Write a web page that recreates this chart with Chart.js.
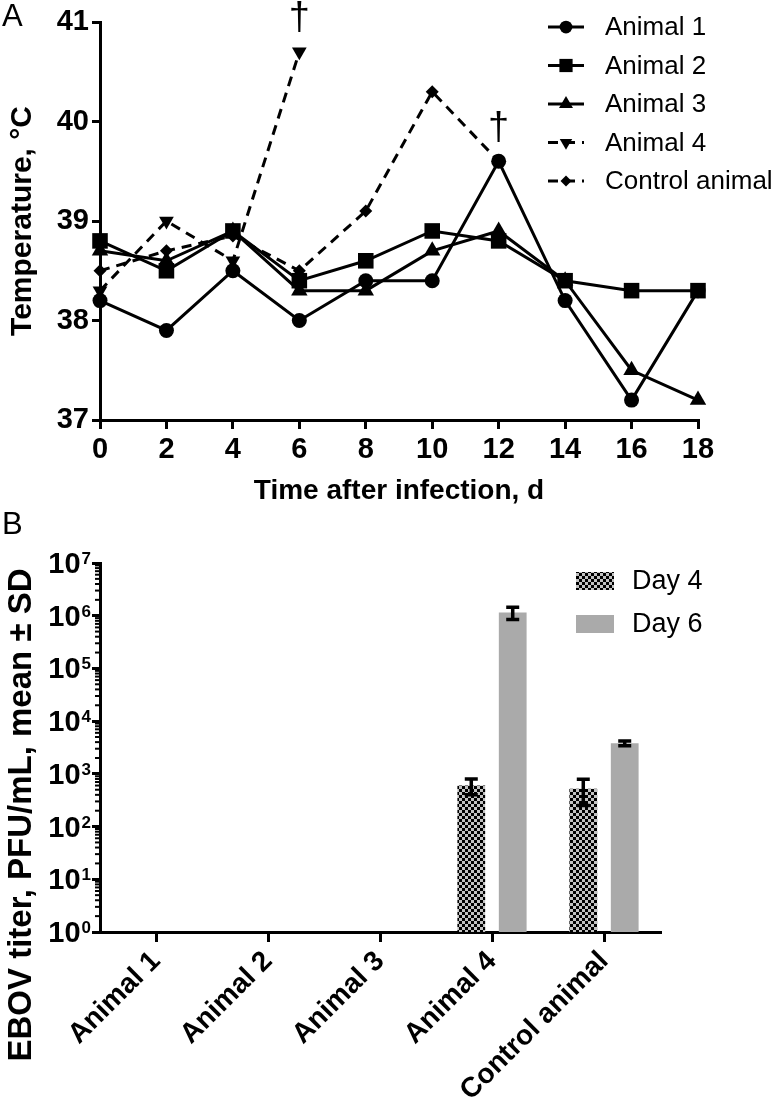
<!DOCTYPE html>
<html>
<head>
<meta charset="utf-8">
<script src="https://cdn.jsdelivr.net/npm/chart.js@4.4.0/dist/chart.umd.min.js"></script>
<style>
  body { margin: 0; background: #fff; }
  #wrap { position: relative; width: 780px; height: 1099px; }
  canvas { position: absolute; left: 0; }
  #temp_chart { top: 0; }
  #titer_chart { top: 510px; }
</style>
</head>
<body>
<div id="wrap">
  <canvas id="temp_chart" width="780" height="510"></canvas>
  <canvas id="titer_chart" width="780" height="589"></canvas>
</div>
<script>
const FONT = "'Liberation Sans', Arial, Helvetica, sans-serif";

// A - body temperature (°C) per animal
const days = [0, 2, 4, 6, 8, 10, 12, 14, 16, 18];
const animal1 = [38.2, 37.9, 38.5, 38.0, 38.4, 38.4, 39.6, 38.2, 37.2, 38.3];
const animal2 = [38.8, 38.5, 38.9, 38.4, 38.6, 38.9, 38.8, 38.4, 38.3, 38.3];
const animal3 = [38.7, 38.6, 38.9, 38.3, 38.3, 38.7, 38.9, 38.4, 37.5, 37.2];
const animal4 = [38.3, 39.0, 38.6, 40.7, null, null, null, null, null, null];
const control = [38.5, 38.7, 38.85, 38.5, 39.1, 40.3, 39.6, null, null, null];
const deaths = [['Animal 4', 6], ['Control animal', 12]];   // † marks

// B - EBOV titer (PFU/mL), mean and SD
const animals = ['Animal 1', 'Animal 2', 'Animal 3', 'Animal 4', 'Control animal'];
const day4_titer = [null, null, null, 600, 520];
const day4_sd = [null, null, null, 200, 270];
const day6_titer = [null, null, null, 1150000, 3800];
const day6_sd = [null, null, null, 300000, 400];
const log_ticks = [1, 10, 100, 1e3, 1e4, 1e5, 1e6, 1e7];


function pts(values) {
    return days.map((d, i) => ({ x: d, y: values[i] })).filter(p => p.y !== null);
}

// own marker drawing for the legend samples
function marker(ctx, style, r, rot, x, y) {
    ctx.save();
    ctx.translate(x, y);
    ctx.rotate((rot || 0) * Math.PI / 180);
    ctx.beginPath();
    if (style === 'circle') {
        ctx.arc(0, 0, r, 0, Math.PI * 2);
    } else if (style === 'rect') {
        const s = Math.SQRT1_2 * r;
        ctx.rect(-s, -s, 2 * s, 2 * s);
    } else if (style === 'triangle') {
        for (let k = 0; k < 3; k++) {
            const a = k * 2 * Math.PI / 3;
            ctx.lineTo(Math.sin(a) * r, -Math.cos(a) * r);
        }
        ctx.closePath();
    } else if (style === 'rectRot') {
        ctx.moveTo(-r, 0); ctx.lineTo(0, -r); ctx.lineTo(r, 0); ctx.lineTo(0, r);
        ctx.closePath();
    }
    ctx.fillStyle = '#000';
    ctx.fill();
    ctx.restore();
}

function line_set(label, values, style, radius, dash, order, rot) {
    return {
        label: label,
        data: pts(values),
        borderColor: '#000',
        backgroundColor: '#000',
        borderWidth: 3,
        borderDash: dash,
        pointStyle: style,
        pointRadius: radius,
        pointRotation: rot || 0,
        pointBorderWidth: 0,
        tension: 0,
        clip: false,
        order: order
    };
}

const temp_extras = {
    id: 'temp_extras',
    afterDraw(chart) {
        const ctx = chart.ctx;
        const xs = chart.scales.x, ys = chart.scales.y;
        ctx.save();
        ctx.fillStyle = '#000';
        ctx.font = '31px ' + FONT;
        ctx.textBaseline = 'top';
        ctx.fillText('A', 2, 2);

        // daggers above the last reading
        ctx.font = '38px ' + FONT;
        ctx.textAlign = 'center';
        ctx.textBaseline = 'middle';
        deaths.forEach(([name, day]) => {
            const ds = chart.data.datasets.find(d => d.label === name);
            const p = ds.data.find(q => q.x === day);
            ctx.fillText('†', xs.getPixelForValue(day), ys.getPixelForValue(p.y) - 33);
        });

        // legend
        ctx.textAlign = 'left';
        ctx.font = '26px ' + FONT;
        chart.data.datasets.forEach((ds, i) => {
            const y = 27 + i * 38.5;
            ctx.strokeStyle = '#000';
            ctx.lineWidth = 3;
            ctx.setLineDash(ds.borderDash);
            ctx.beginPath();
            ctx.moveTo(548, y);
            ctx.lineTo(584, y);
            ctx.stroke();
            ctx.setLineDash([]);
            marker(ctx, ds.pointStyle, ds.pointRadius * 0.85, ds.pointRotation, 566, y);
            ctx.fillText(ds.label, 605, y + 1);
        });
        ctx.restore();
    }
};

const axis_font = { family: FONT, size: 29, weight: 'bold' };

new Chart(document.getElementById('temp_chart'), {
    type: 'line',
    data: {
        datasets: [
            line_set('Animal 1', animal1, 'circle', 7.5, [], 1),
            line_set('Animal 2', animal2, 'rect', 11, [], 0),
            line_set('Animal 3', animal3, 'triangle', 9.5, [], 2),
            line_set('Animal 4', animal4, 'triangle', 8.5, [10, 7], 3, 180),
            line_set('Control animal', control, 'rectRot', 6.5, [10, 7], 4)
        ]
    },
    options: {
        responsive: false,
        animation: false,
        layout: { padding: { top: 22, right: 82, left: 0, bottom: 0 } },
        plugins: { legend: { display: false }, tooltip: { enabled: false } },
        scales: {
            x: {
                type: 'linear', min: 0, max: 18,
                afterFit: s => { s.height = 90; },
                ticks: { stepSize: 2, color: '#000', font: axis_font, padding: 4, maxRotation: 0 },
                grid: { drawOnChartArea: false, color: '#000', lineWidth: 3, tickLength: 9 },
                border: { color: '#000', width: 3 },
                title: {
                    display: true, text: 'Time after infection, d', color: '#000',
                    font: { family: FONT, size: 28, weight: 'bold' }, padding: { top: 4, bottom: 2 }
                }
            },
            y: {
                min: 37, max: 41,
                afterFit: s => { s.width = 100; },
                ticks: { stepSize: 1, color: '#000', font: axis_font, padding: 3 },
                grid: { drawOnChartArea: false, color: '#000', lineWidth: 3, tickLength: 8 },
                border: { color: '#000', width: 3 },
                title: {
                    display: true, text: 'Temperature, °C', color: '#000',
                    font: { family: FONT, size: 30, weight: 'bold' }, padding: { top: 5, bottom: 0 }
                }
            }
        }
    },
    plugins: [temp_extras]
});


// ---- panel B ----
const titer_canvas = document.getElementById('titer_chart');
const tctx = titer_canvas.getContext('2d');

const checker = (() => {
    const c = document.createElement('canvas');
    c.width = 6; c.height = 6;
    const g = c.getContext('2d');
    g.fillStyle = '#c2c2c2';
    g.fillRect(0, 0, 6, 6);
    g.fillStyle = '#000';
    g.fillRect(0, 0, 3, 3);
    g.fillRect(3, 3, 3, 3);
    return tctx.createPattern(c, 'repeat');
})();
const light_grey = '#aaaaaa';

const titer_extras = {
    id: 'titer_extras',
    afterDatasetsDraw(chart) {
        const ctx = chart.ctx, ys = chart.scales.y;
        ctx.save();
        ctx.strokeStyle = '#000';
        ctx.lineWidth = 3.5;
        [day4_sd, day6_sd].forEach((sd, di) => {
            const meta = chart.getDatasetMeta(di);
            meta.data.forEach((bar, i) => {
                const v = chart.data.datasets[di].data[i];
                if (v == null || sd[i] == null) return;
                const top = ys.getPixelForValue(v + sd[i]);
                const bot = ys.getPixelForValue(Math.max(v - sd[i], 1));
                ctx.beginPath();
                ctx.moveTo(bar.x, top); ctx.lineTo(bar.x, bot);
                ctx.moveTo(bar.x - 6.5, top); ctx.lineTo(bar.x + 6.5, top);
                ctx.moveTo(bar.x - 6.5, bot); ctx.lineTo(bar.x + 6.5, bot);
                ctx.stroke();
            });
        });
        ctx.restore();
    },
    afterDraw(chart) {
        const ctx = chart.ctx, ys = chart.scales.y;
        const left = chart.chartArea.left;
        ctx.save();
        ctx.fillStyle = '#000';
        ctx.strokeStyle = '#000';

        ctx.font = '31px ' + FONT;
        ctx.textBaseline = 'top';
        ctx.fillText('B', 2, 0);

        // minor log ticks
        ctx.lineWidth = 2;
        for (let e = 0; e < 7; e++) {
            for (let k = 2; k < 10; k++) {
                const py = ys.getPixelForValue(k * Math.pow(10, e));
                ctx.beginPath();
                ctx.moveTo(left - 5, py);
                ctx.lineTo(left, py);
                ctx.stroke();
            }
        }

        // 10^n labels
        ys.ticks.forEach(t => {
            const py = ys.getPixelForValue(t.value);
            const sup = String(Math.round(Math.log10(t.value)));
            ctx.font = 'bold 17px ' + FONT;
            const ws = ctx.measureText(sup).width;
            const right = left - 9;
            ctx.textAlign = 'left';
            ctx.textBaseline = 'alphabetic';
            ctx.fillText(sup, right - ws, py + 1);
            ctx.font = 'bold 29px ' + FONT;
            ctx.textAlign = 'right';
            ctx.textBaseline = 'middle';
            ctx.fillText('10', right - ws - 1, py + 2);
        });

        // y title
        ctx.save();
        ctx.translate(22, 305);
        ctx.rotate(-Math.PI / 2);
        ctx.font = 'bold 33px ' + FONT;
        ctx.textAlign = 'center';
        ctx.textBaseline = 'middle';
        ctx.fillText('EBOV titer, PFU/mL, mean ± SD', 0, 0);
        ctx.restore();

        // legend
        ctx.font = '27px ' + FONT;
        ctx.textAlign = 'left';
        ctx.textBaseline = 'middle';
        chart.data.datasets.forEach((ds, i) => {
            const y = 71 + i * 43;
            ctx.fillStyle = ds.backgroundColor;
            ctx.fillRect(576, y - 9, 38, 18);
            ctx.fillStyle = '#000';
            ctx.fillText(ds.label, 632, y + 1);
        });
        ctx.restore();
    }
};

new Chart(titer_canvas, {
    type: 'bar',
    data: {
        labels: animals,
        datasets: [
            { label: 'Day 4', data: day4_titer, backgroundColor: checker, borderWidth: 0,
              barPercentage: 0.67, categoryPercentage: 0.74 },
            { label: 'Day 6', data: day6_titer, backgroundColor: light_grey, borderWidth: 0,
              barPercentage: 0.67, categoryPercentage: 0.74 }
        ]
    },
    options: {
        responsive: false,
        animation: false,
        layout: { padding: { top: 53, right: 120, left: 0, bottom: 0 } },
        plugins: { legend: { display: false }, tooltip: { enabled: false } },
        scales: {
            x: {
                afterFit: s => { s.height = 167; },
                ticks: { color: '#000', font: { family: FONT, size: 28, weight: 'bold' },
                         minRotation: 45, maxRotation: 45, padding: 3, autoSkip: false },
                grid: { offset: false, drawOnChartArea: false, color: '#000', lineWidth: 3, tickLength: 10 },
                border: { color: '#000', width: 3 }
            },
            y: {
                type: 'logarithmic', min: 1, max: 1e7,
                afterBuildTicks: s => { s.ticks = log_ticks.map(v => ({ value: v })); },
                afterFit: s => { s.width = 100; },
                ticks: { display: false, autoSkip: false },
                grid: { drawOnChartArea: false, color: '#000', lineWidth: 3, tickLength: 8 },
                border: { color: '#000', width: 3 }
            }
        }
    },
    plugins: [titer_extras]
});
</script>
</body>
</html>
